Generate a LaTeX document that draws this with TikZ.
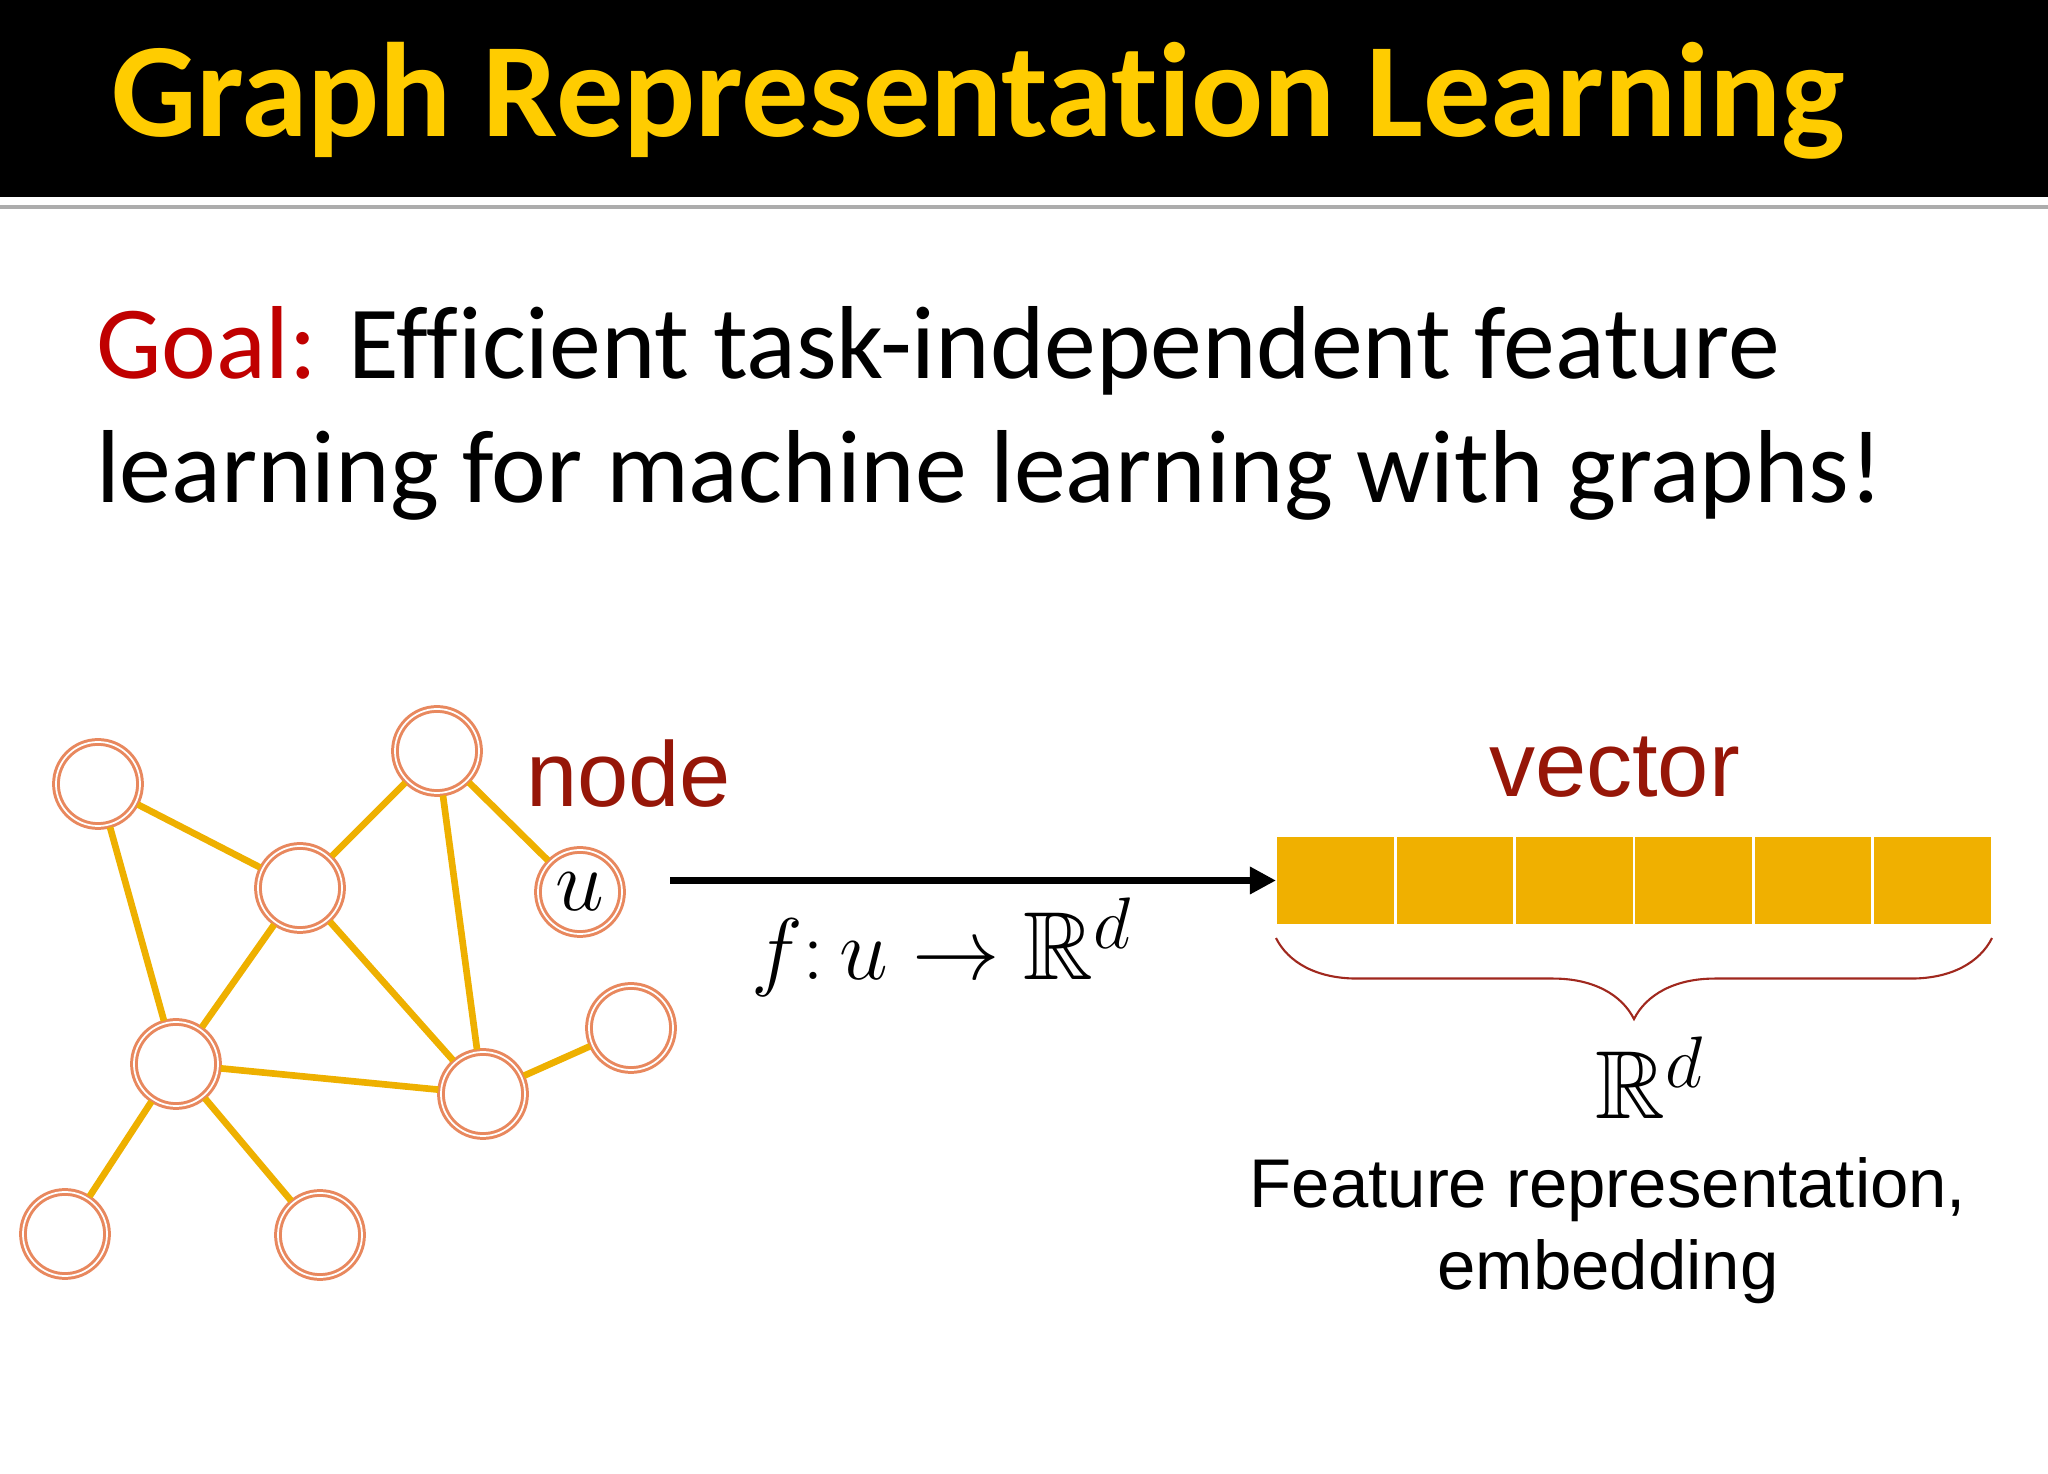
\documentclass[tikz,border=0pt]{standalone}
\usepackage{fontspec}
\usepackage{amssymb}
\setmainfont[Ligatures=CommonOff]{Carlito}
\newfontfamily\arialfont{Liberation Sans}
\usetikzlibrary{decorations.pathreplacing,arrows.meta}

\definecolor{titlegold}{RGB}{255,204,0}
\definecolor{goalred}{RGB}{192,0,0}
\definecolor{nodered}{RGB}{150,22,8}
\definecolor{bracered}{RGB}{160,40,30}
\definecolor{ringorange}{RGB}{232,136,94}
\definecolor{edgegold}{RGB}{238,176,0}
\definecolor{vecgold}{RGB}{240,176,0}

\begin{document}
\begin{tikzpicture}[x=0.01cm,y=-0.01cm,every node/.style={outer sep=0pt}]

	\tikzstyle{ring}=[circle,draw=ringorange,line width=0.85pt,double=white,double distance=0.5pt,fill=white,minimum size=0.84cm,inner sep=0pt]
	\tikzstyle{link}=[draw=edgegold,line width=1.9pt,shorten >=0.8pt,shorten <=0.8pt]
	\tikzstyle{cell}=[fill=vecgold,draw=white,line width=0.7pt,minimum width=1.193cm,minimum height=0.89cm,inner sep=0pt]
	\tikzstyle{mapto}=[-{Triangle[length=0.26cm,width=0.26cm]},line width=1.8pt]
	\tikzstyle{redword}=[anchor=base west,inner sep=0pt,text=nodered,font=\arialfont\fontsize{26.2}{29}\selectfont]
	\tikzstyle{goalline}=[anchor=base west,inner sep=0pt,font=\fontsize{29.5}{35}\selectfont]
	\tikzstyle{caption}=[anchor=base,inner sep=0pt,font=\arialfont\fontsize{19.6}{23}\selectfont]

	\useasboundingbox (0,0) rectangle (2048,1474);

	% title bar
	\fill[black] (0,0) rectangle (2048,197);
	\draw[gray!65,line width=1.2pt] (0,207) -- (2048,207);
	\node[anchor=base west,inner sep=0pt,text=titlegold,font=\fontsize{38.2}{40}\selectfont\bfseries] (title) at (111,137) {Graph Representation Learning};

	\node[goalline] (goalA) at (96,379) {\textcolor{goalred}{Goal:} Efficient task-independent feature};
	\node[goalline] (goalB) at (96,503) {learning for machine learning with graphs!};

	% graph
	\node[ring] (a) at (98,784) {};
	\node[ring] (b) at (437,751) {};
	\node[ring] (c) at (300,888) {};
	\node[ring,font=\fontsize{29}{29}\selectfont] (u) at (580,892) {$u$};
	\node[ring] (d) at (176,1064) {};
	\node[ring] (e) at (483,1094) {};
	\node[ring] (f) at (631,1028) {};
	\node[ring] (g) at (65,1234) {};
	\node[ring] (h) at (320,1235) {};
	\foreach \s/\t in {a/c,a/d,b/c,b/e,b/u,c/d,c/e,d/e,d/g,d/h,e/f}
		\draw[link] (\s) -- (\t);

	\node[redword] (nodeword) at (526,807) {node};

	% vector
	\foreach \i in {0,...,5}
		\node[cell] (c\i) at ({1276+119.33*(\i+0.5)},880.5) {};
	\node[redword] (vecword) at (1489,797) {vector};

	\draw[mapto,shorten <=0.48cm] (u.east |- c0.west) -- (c0.west);
	\node[anchor=base west,inner sep=0pt,font=\fontsize{27.5}{30}\selectfont] (fmap) at (751,980) {$f\colon u\to\mathbb{R}^d$};

	\draw[decorate,decoration={brace,mirror,amplitude=0.81cm},draw=bracered,line width=0.6pt] ([yshift=-0.13cm]c0.south west) -- ([yshift=-0.13cm]c5.south east);

	\node[anchor=base,inner sep=0pt,font=\fontsize{27.5}{30}\selectfont] (space) at (1650,1119) {$\mathbb{R}^d$};
	\node[caption] (featA) at (1608,1208) {Feature representation,};
	\node[caption] (featB) at (1608,1290) {embedding};

\end{tikzpicture}
\end{document}
